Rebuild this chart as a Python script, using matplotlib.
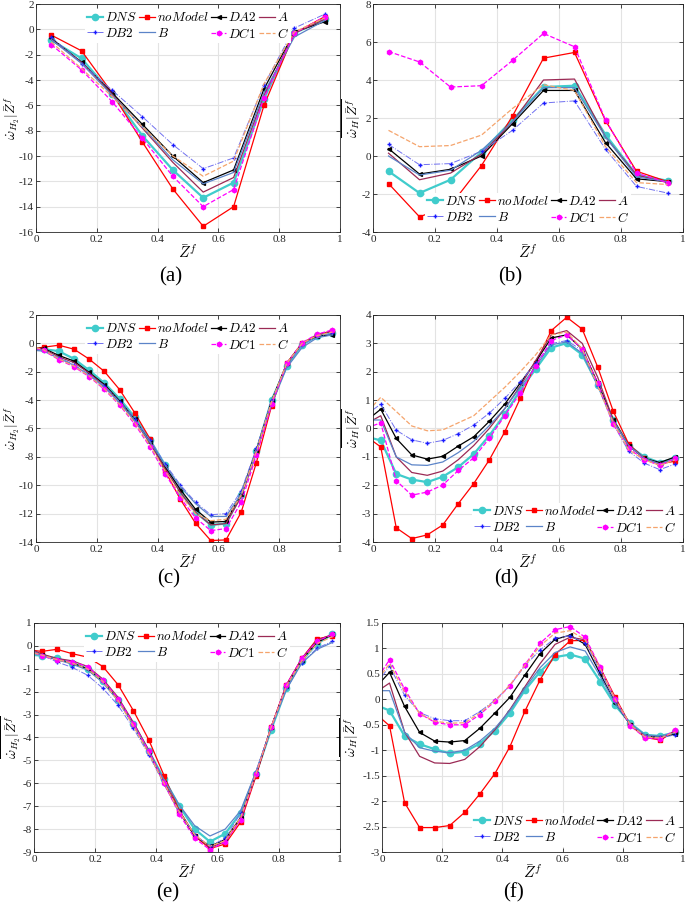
import numpy as np
import matplotlib
matplotlib.use("Agg")
import matplotlib.pyplot as plt
from matplotlib.ticker import FuncFormatter

plt.rcParams["font.family"] = ["Liberation Serif", "DejaVu Serif"]
plt.rcParams["mathtext.fontset"] = "cm"
plt.rcParams["axes.unicode_minus"] = False

x_coarse = [0.05, 0.15, 0.25, 0.35, 0.45, 0.55, 0.65, 0.75, 0.85, 0.95]
x_fine = [0.0, 0.025, 0.075, 0.125, 0.175, 0.225, 0.275, 0.325, 0.375, 0.425, 0.475,
          0.525, 0.575, 0.625, 0.675, 0.725, 0.775, 0.825, 0.875, 0.925, 0.975]

series_names = ["DNS", "noModel", "DA2", "A", "DB2", "B", "DC1", "C"]
legend_labels = [r"$DNS$", r"$noModel$", r"$DA2$", r"$A$", r"$DB2$", r"$B$", r"$DC1$", r"$C$"]

# panel (a)
a_DNS = [-0.85, -2.3, -5.1, -8.4, -11.1, -13.3, -12.1, -5.5, -0.3, 0.8]
a_noModel = [-0.45, -1.7, -5.0, -8.9, -12.6, -15.55, -14.0, -6.0, -0.3, 1.0]
a_DA2 = [-0.7, -2.6, -5.0, -7.5, -10.0, -12.1, -11.1, -4.7, -0.2, 0.6]
a_A = [-0.8, -2.6, -5.1, -7.8, -10.5, -12.85, -11.7, -5.2, -0.3, 0.8]
a_DB2 = [-0.6, -2.7, -4.8, -6.9, -9.1, -11.0, -10.15, -4.4, 0.1, 1.2]
a_B = [-0.8, -2.7, -5.2, -7.7, -10.3, -12.2, -11.3, -5.0, -0.6, 0.7]
a_DC1 = [-1.2, -3.2, -5.7, -8.6, -11.6, -14.0, -12.65, -5.4, -0.3, 1.0]
a_C = [-1.0, -3.1, -5.3, -7.7, -10.0, -11.6, -10.4, -4.3, -0.2, 0.9]

# panel (b)
b_DNS = [-0.8, -1.95, -1.25, 0.2, 1.9, 3.63, 3.7, 1.12, -1.0, -1.3]
b_noModel = [-1.45, -3.2, -2.6, -0.5, 2.1, 5.15, 5.45, 1.86, -0.8, -1.35]
b_DA2 = [0.39, -0.95, -0.7, 0.0, 1.7, 3.45, 3.45, 0.7, -1.2, -1.35]
b_A = [0.15, -1.25, -0.9, 0.1, 1.8, 4.0, 4.05, 1.0, -1.0, -1.4]
b_DB2 = [0.61, -0.46, -0.4, 0.25, 1.35, 2.79, 2.9, 0.35, -1.6, -1.95]
b_B = [0.0, -1.0, -0.75, 0.3, 1.8, 3.6, 3.6, 1.0, -1.1, -1.35]
b_DC1 = [5.5, 4.95, 3.63, 3.7, 5.03, 6.45, 5.75, 1.9, -0.9, -1.4]
b_C = [1.35, 0.49, 0.55, 1.1, 2.5, 3.75, 3.45, 0.5, -1.4, -1.5]

# panel (c)
c_DNS = [-0.45, -0.4, -0.55, -1.09, -1.9, -2.8, -3.9, -5.2, -6.8, -8.6, -10.5,
         -11.9, -12.8, -12.7, -10.7, -7.6, -4.0, -1.6, -0.1, 0.5, 0.7]
c_noModel = [-0.35, -0.27, -0.13, -0.41, -1.11, -1.98, -3.26, -4.9, -6.73, -9.0, -11.0,
             -12.68, -13.9, -13.85, -11.9, -8.4, -4.4, -1.4, 0.0, 0.6, 0.9]
c_DA2 = [-0.35, -0.35, -0.85, -1.25, -2.05, -2.9, -4.05, -5.35, -6.95, -8.7, -10.3,
         -11.7, -12.6, -12.55, -10.6, -7.5, -4.05, -1.4, 0.0, 0.5, 0.6]
c_A = [-0.4, -0.4, -0.95, -1.35, -2.1, -3.0, -4.15, -5.45, -7.05, -8.85, -10.5,
       -11.9, -12.8, -12.7, -10.8, -7.7, -4.2, -1.5, 0.0, 0.6, 0.85]
c_DB2 = [-0.4, -0.5, -1.0, -1.5, -2.2, -3.0, -4.1, -5.3, -6.8, -8.5, -9.98,
         -11.2, -12.08, -12.0, -10.4, -7.4, -4.0, -1.5, -0.1, 0.5, 0.7]
c_B = [-0.5, -0.55, -1.05, -1.55, -2.25, -3.1, -4.2, -5.45, -6.95, -8.6, -10.1,
       -11.3, -12.2, -12.2, -10.6, -7.7, -4.3, -1.7, -0.3, 0.4, 0.6]
c_DC1 = [-0.35, -0.5, -1.15, -1.65, -2.35, -3.25, -4.35, -5.7, -7.3, -9.2, -10.9,
         -12.3, -13.2, -13.05, -11.2, -7.9, -4.3, -1.4, 0.05, 0.65, 0.95]
c_C = [-0.3, -0.45, -1.1, -1.6, -2.3, -3.2, -4.3, -5.6, -7.2, -9.0, -10.7,
       -12.0, -12.5, -12.4, -10.7, -7.6, -4.1, -1.4, 0.0, 0.55, 0.8]

# panel (d)
d_DNS = [-0.35, -0.42, -1.6, -1.8, -1.89, -1.7, -1.36, -0.9, -0.25, 0.5, 1.35,
         2.1, 2.85, 3.01, 2.6, 1.55, 0.3, -0.6, -1.0, -1.2, -1.05]
d_noModel = [-0.45, -0.65, -3.5, -3.88, -3.75, -3.4, -2.65, -1.94, -1.11, -0.12, 1.06,
             2.3, 3.45, 3.92, 3.5, 2.16, 0.61, -0.55, -1.05, -1.25, -1.15]
d_DA2 = [0.46, 0.68, -0.35, -0.93, -1.08, -0.98, -0.62, -0.29, 0.25, 0.86, 1.6,
         2.35, 3.19, 3.3, 2.8, 1.6, 0.3, -0.6, -1.05, -1.2, -1.0]
d_A = [0.3, 0.45, -1.0, -1.55, -1.65, -1.5, -1.1, -0.6, 0.0, 0.7, 1.5,
       2.4, 3.3, 3.45, 3.0, 1.8, 0.3, -0.6, -1.05, -1.25, -1.1]
d_DB2 = [0.66, 0.86, -0.06, -0.4, -0.52, -0.42, -0.18, 0.12, 0.54, 1.06, 1.65,
         2.3, 2.99, 3.1, 2.75, 1.5, 0.15, -0.8, -1.22, -1.45, -1.25]
d_B = [0.3, 0.3, -1.0, -1.28, -1.3, -1.18, -0.85, -0.45, 0.1, 0.7, 1.45,
       2.2, 2.95, 3.05, 2.65, 1.5, 0.25, -0.6, -1.05, -1.25, -1.1]
d_DC1 = [0.1, 0.2, -1.84, -2.35, -2.24, -1.99, -1.48, -1.03, -0.35, 0.45, 1.25,
         2.2, 3.1, 3.3, 2.8, 1.6, 0.15, -0.7, -1.1, -1.3, -1.05]
d_C = [0.8, 1.1, 0.6, 0.09, -0.08, -0.05, 0.2, 0.45, 0.95, 1.45, 2.0,
       2.6, 3.3, 3.4, 2.8, 1.5, 0.2, -0.75, -1.1, -1.3, -1.1]

# panel (e)
e_DNS = [-0.4, -0.42, -0.55, -0.75, -1.0, -1.55, -2.35, -3.4, -4.6, -5.8, -7.0,
         -8.0, -8.55, -8.2, -7.3, -5.6, -3.66, -1.85, -0.65, 0.1, 0.5]
e_noModel = [-0.2, -0.24, -0.15, -0.34, -0.49, -0.9, -1.7, -2.83, -4.1, -5.66, -7.2,
             -8.3, -8.85, -8.65, -7.7, -5.7, -3.55, -1.7, -0.55, 0.3, 0.45]
e_DA2 = [-0.25, -0.4, -0.6, -0.75, -1.0, -1.55, -2.35, -3.45, -4.65, -6.0, -7.25,
         -8.3, -8.75, -8.45, -7.5, -5.6, -3.55, -1.75, -0.6, 0.15, 0.5]
e_A = [-0.2, -0.35, -0.55, -0.65, -0.9, -1.45, -2.25, -3.35, -4.55, -5.9, -7.2,
       -8.25, -8.8, -8.55, -7.55, -5.65, -3.55, -1.7, -0.55, 0.25, 0.5]
e_DB2 = [-0.25, -0.4, -0.7, -0.94, -1.28, -1.85, -2.6, -3.6, -4.75, -6.05, -7.25,
         -8.25, -8.75, -8.4, -7.3, -5.5, -3.6, -1.85, -0.75, -0.1, 0.2]
e_B = [-0.3, -0.4, -0.6, -0.8, -1.05, -1.6, -2.4, -3.45, -4.6, -5.85, -6.95,
       -7.85, -8.3, -8.0, -7.2, -5.5, -3.6, -1.9, -0.75, -0.15, 0.15]
e_DC1 = [-0.3, -0.45, -0.6, -0.7, -0.9, -1.5, -2.3, -3.4, -4.6, -6.0, -7.35,
         -8.4, -8.9, -8.55, -7.6, -5.6, -3.55, -1.7, -0.55, 0.2, 0.5]
e_C = [-0.3, -0.4, -0.6, -0.75, -1.0, -1.55, -2.4, -3.5, -4.7, -6.0, -7.25,
       -8.25, -8.75, -8.5, -7.5, -5.6, -3.55, -1.75, -0.65, 0.1, 0.4]

# panel (f)
f_DNS = [-0.16, -0.22, -0.72, -0.88, -0.98, -1.06, -1.03, -0.87, -0.62, -0.27, 0.18,
         0.54, 0.83, 0.88, 0.8, 0.35, -0.12, -0.47, -0.7, -0.72, -0.65]
f_noModel = [-0.39, -0.52, -2.03, -2.52, -2.52, -2.48, -2.22, -1.86, -1.46, -0.93, -0.23,
             0.38, 0.88, 1.15, 1.16, 0.62, 0.04, -0.51, -0.75, -0.8, -0.62]
f_DA2 = [0.37, 0.53, -0.14, -0.65, -0.82, -0.84, -0.81, -0.57, -0.27, 0.04, 0.48,
         0.9, 1.18, 1.26, 1.08, 0.5, -0.07, -0.5, -0.72, -0.75, -0.68]
f_A = [0.22, 0.32, -0.64, -1.12, -1.25, -1.26, -1.18, -0.93, -0.6, -0.2, 0.25,
       0.7, 1.08, 1.22, 1.17, 0.6, 0.0, -0.5, -0.73, -0.78, -0.62]
f_DB2 = [0.45, 0.65, 0.08, -0.26, -0.38, -0.42, -0.42, -0.24, -0.02, 0.27, 0.66,
         0.97, 1.2, 1.25, 1.1, 0.55, -0.03, -0.5, -0.72, -0.75, -0.7]
f_B = [0.17, 0.17, -0.65, -0.95, -1.02, -1.05, -1.0, -0.82, -0.57, -0.22, 0.22,
       0.62, 0.92, 1.03, 0.95, 0.45, -0.08, -0.48, -0.7, -0.72, -0.66]
f_DC1 = [0.55, 0.78, 0.2, -0.28, -0.45, -0.5, -0.5, -0.3, -0.04, 0.27, 0.68,
         1.1, 1.37, 1.43, 1.22, 0.63, 0.0, -0.52, -0.76, -0.78, -0.6]
f_C = [0.5, 0.7, 0.15, -0.28, -0.43, -0.47, -0.46, -0.27, -0.03, 0.28, 0.67,
       1.05, 1.3, 1.35, 1.17, 0.6, 0.0, -0.5, -0.74, -0.76, -0.64]

panel_data = {
    "a": [a_DNS, a_noModel, a_DA2, a_A, a_DB2, a_B, a_DC1, a_C],
    "b": [b_DNS, b_noModel, b_DA2, b_A, b_DB2, b_B, b_DC1, b_C],
    "c": [c_DNS, c_noModel, c_DA2, c_A, c_DB2, c_B, c_DC1, c_C],
    "d": [d_DNS, d_noModel, d_DA2, d_A, d_DB2, d_B, d_DC1, d_C],
    "e": [e_DNS, e_noModel, e_DA2, e_A, e_DB2, e_B, e_DC1, e_C],
    "f": [f_DNS, f_noModel, f_DA2, f_A, f_DB2, f_B, f_DC1, f_C],
}

styles = {
    "DNS": dict(color="#40CCCC", lw=1.6, marker="o", ms=4.5, mfc="#40CCCC", mec="#40CCCC"),
    "noModel": dict(color="#FF0000", lw=0.9, marker="s", ms=2.2, mfc="#FF0000", mec="#FF0000"),
    "DA2": dict(color="black", lw=0.9, marker="<", ms=2.8, mfc="black", mec="black"),
    "A": dict(color="#9B2A55", lw=0.9),
    "DB2": dict(color="#7070F0", lw=0.7, ls="-.", marker="+", ms=3.5, mec="#1A1AFF"),
    "B": dict(color="#5B84C8", lw=0.9),
    "DC1": dict(color="#FF00FF", lw=0.9, ls="--", marker="h", ms=3.3, mfc="#FF00FF", mec="#FF00FF"),
    "C": dict(color="#F5A46C", lw=0.9, ls="--"),
}

# left, top, width, height in pixels of a 685x905 canvas
W, H = 685.0, 905.0
panel_boxes = {
    "a": (36, 4, 304, 228),
    "b": (373, 4, 310, 228),
    "c": (36, 315, 304, 227),
    "d": (373, 315, 310, 227),
    "e": (34, 623, 306, 229),
    "f": (382, 623, 301, 229),
}
panel_ylim = {"a": (-16, 2), "b": (-4, 8), "c": (-14, 2), "d": (-4, 4), "e": (-9, 1), "f": (-3, 1.5)}
panel_ystep = {"a": 2, "b": 2, "c": 2, "d": 1, "e": 1, "f": 0.5}
panel_legend = {"a": "upper center", "b": "lower center", "c": "upper center",
                "d": "lower right", "e": "upper center", "f": "lower right"}
label_pos = {"a": (171, 277), "b": (510, 277), "c": (169, 579),
             "d": (506, 579), "e": (168, 893), "f": (513, 893)}
ylabel_x = {"a": 10.5, "b": 352, "c": 10.5, "d": 352, "e": 11, "f": 350}

fig = plt.figure(figsize=(6.85, 9.05), dpi=100)
fmt = FuncFormatter(lambda v, p: "%g" % v)

for key in ["a", "b", "c", "d", "e", "f"]:
    px, py, pw, ph = panel_boxes[key]
    ax = fig.add_axes([px / W, 1 - (py + ph) / H, pw / W, ph / H])
    coarse = key in ("a", "b")
    xs = x_coarse if coarse else x_fine
    handles = []
    for name, ys in zip(series_names, panel_data[key]):
        st = dict(styles[name])
        if "marker" in st and not coarse:
            st["markevery"] = slice(1, None)
        (h,) = ax.plot(xs, ys, **st)
        handles.append(h)

    ax.set_xlim(0, 1)
    ax.set_ylim(*panel_ylim[key])
    ax.set_xticks(np.arange(0, 1.01, 0.2))
    lo, hi = panel_ylim[key]
    ax.set_yticks(np.arange(lo, hi + 1e-9, panel_ystep[key]))
    ax.xaxis.set_major_formatter(fmt)
    ax.yaxis.set_major_formatter(fmt)
    ax.tick_params(direction="in", length=3, width=0.6, labelsize=8, pad=2,
                   colors="#262626", top=True, right=True)
    ax.tick_params(axis="y", pad=1.5)
    ax.grid(True, color="#E3E3E3", lw=0.8)
    ax.set_axisbelow(True)
    for sp in ax.spines.values():
        sp.set_color("#262626")
        sp.set_linewidth(0.6)

    ax.set_xlabel(r"$\bar{Z}^f$", fontsize=11, labelpad=0)
    if key in ("a", "c", "e"):
        ylab = r"$\overline{\dot{\omega}_{H_2}|\bar{Z}^f}$"
    else:
        ylab = r"$\overline{\dot{\omega}_{H}|\bar{Z}^f}$"
    fig.text(ylabel_x[key] / W, 1 - (py + ph / 2) / H, ylab, fontsize=10,
             rotation=90, ha="center", va="center")

    order = [0, 4, 1, 5, 2, 6, 3, 7]
    ax.legend([handles[i] for i in order], [legend_labels[i] for i in order],
              loc=panel_legend[key], ncol=4, fontsize=9.5, frameon=True,
              framealpha=1, edgecolor="none", facecolor="white",
              handlelength=1.2, handletextpad=0.15, columnspacing=0.15,
              labelspacing=0.2, borderpad=0.15, borderaxespad=0.4, fancybox=False)

    lx, ly = label_pos[key]
    fig.text(lx / W, 1 - ly / H, "(%s)" % key, fontsize=15, ha="center", va="center")

fig.savefig("out.png", dpi=100)
